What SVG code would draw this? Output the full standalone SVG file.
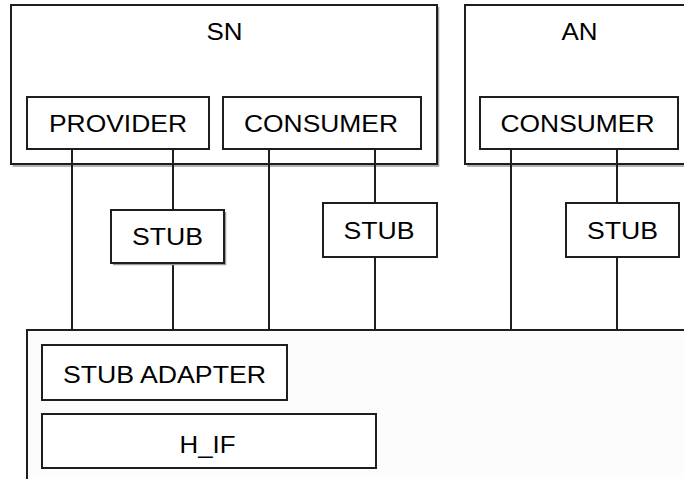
<svg xmlns="http://www.w3.org/2000/svg" width="684" height="479" viewBox="0 0 684 479">
<style>
.box{fill:#ffffff;stroke:#1e1e1e;stroke-width:2}
.outer{fill:#ffffff;stroke:#1e1e1e;stroke-width:2}
.base{fill:#fcfcfc;stroke:#1e1e1e;stroke-width:2}
.sh{fill:none;stroke:#9a9a9a;stroke-width:1.5}
.lbl{font-family:"Liberation Sans",Arial,sans-serif;font-size:24px;fill:#000;text-anchor:middle}
.con line{stroke:#1e1e1e;stroke-width:2}
</style>
<rect width="684" height="479" fill="#ffffff"/>
<g id="SN">
<polyline class="sh" points="438.5,7 438.5,166 12.5,166"/>
<rect class="outer" x="11" y="5" width="426" height="159"/>
<text class="lbl" x="224.5" y="40" textLength="36" lengthAdjust="spacingAndGlyphs">SN</text>
</g>
<g id="AN">
<polyline class="sh" points="467,166 690,166"/>
<rect class="outer" x="465" y="5" width="300" height="159"/>
<text class="lbl" x="579.5" y="40" textLength="36" lengthAdjust="spacingAndGlyphs">AN</text>
</g>
<g id="base">
<rect class="base" x="27" y="330" width="700" height="200"/>
</g>
<g id="connectors" class="con">
<line x1="72" y1="149" x2="72" y2="330"/>
<line x1="173" y1="149" x2="173" y2="210"/>
<line x1="173" y1="263" x2="173" y2="330"/>
<line x1="269" y1="149" x2="269" y2="330"/>
<line x1="375" y1="149" x2="375" y2="203"/>
<line x1="375" y1="257" x2="375" y2="330"/>
<line x1="511" y1="149" x2="511" y2="330"/>
<line x1="617" y1="149" x2="617" y2="203"/>
<line x1="617" y1="257" x2="617" y2="330"/>
</g>
<g id="provider">
<rect class="box" x="27" y="97" width="182" height="52"/>
<text class="lbl" x="118" y="132" textLength="138" lengthAdjust="spacingAndGlyphs">PROVIDER</text>
</g>
<g id="consumer-sn">
<rect class="box" x="223" y="97" width="198" height="52"/>
<text class="lbl" x="321" y="132" textLength="154" lengthAdjust="spacingAndGlyphs">CONSUMER</text>
</g>
<g id="consumer-an">
<rect class="box" x="480" y="97" width="198" height="52"/>
<text class="lbl" x="577.5" y="132" textLength="154" lengthAdjust="spacingAndGlyphs">CONSUMER</text>
</g>
<g id="stub1">
<polyline class="sh" points="225.5,212 225.5,264.5 113,264.5"/>
<rect class="box" x="111" y="210" width="113" height="53"/>
<text class="lbl" x="167.5" y="245" textLength="71" lengthAdjust="spacingAndGlyphs">STUB</text>
</g>
<g id="stub2">
<rect class="box" x="323" y="203" width="114" height="54"/>
<text class="lbl" x="379" y="239" textLength="71" lengthAdjust="spacingAndGlyphs">STUB</text>
</g>
<g id="stub3">
<rect class="box" x="566" y="203" width="113" height="54"/>
<text class="lbl" x="622.5" y="239" textLength="71" lengthAdjust="spacingAndGlyphs">STUB</text>
</g>
<g id="stub-adapter">
<rect class="box" x="42" y="345" width="245" height="55"/>
<text class="lbl" x="164.5" y="383" textLength="203" lengthAdjust="spacingAndGlyphs">STUB ADAPTER</text>
</g>
<g id="h-if">
<rect class="box" x="42" y="414" width="334" height="54"/>
<text class="lbl" x="207.5" y="453" textLength="56" lengthAdjust="spacingAndGlyphs">H_IF</text>
</g>
</svg>
